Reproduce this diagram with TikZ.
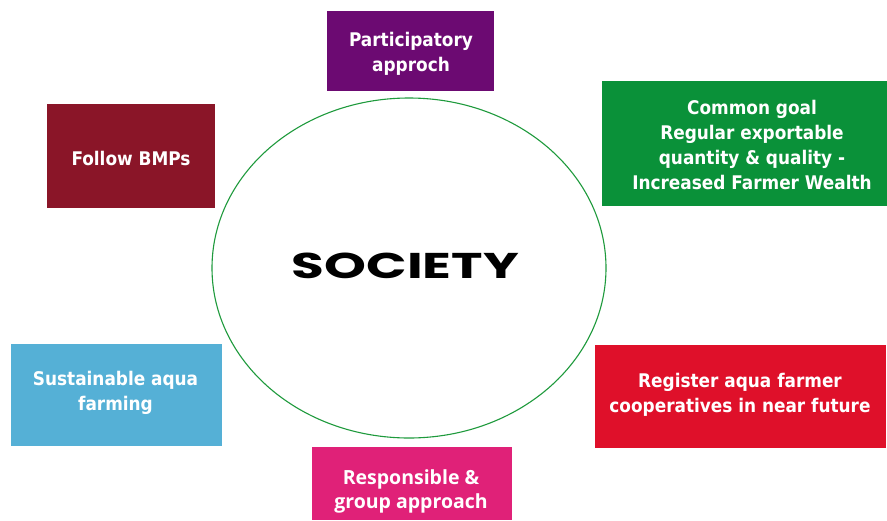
\documentclass[tikz,border=0pt]{standalone}
\usepackage{fontspec}
\usepackage{graphicx}
\usetikzlibrary{shapes.geometric}
\newfontfamily\tahfont{DejaVu Sans Condensed}
\newfontfamily\opfont{Open Sans}
\newfontfamily\socfont{Poppins}
\definecolor{cPurple}{HTML}{6C0A72}
\definecolor{cMaroon}{HTML}{8A1528}
\definecolor{cGreen}{HTML}{0A9139}
\definecolor{cBlue}{HTML}{55B0D6}
\definecolor{cRed}{HTML}{DF102A}
\definecolor{cPink}{HTML}{E02178}
\definecolor{cLine}{HTML}{1E9A3C}
\tikzset{
  box/.style={rectangle, inner sep=0pt},
  txt/.style={inner sep=0pt, text=white, align=center,
    font=\tahfont\bfseries\fontsize{18.8}{25}\selectfont},
}
\begin{document}
\begin{tikzpicture}[x=1pt,y=-1pt]
\useasboundingbox (0,0) rectangle (887,520);
\fill[white] (0,0) rectangle (887,520);
\node[draw=cLine, line width=1.1pt, ellipse, inner sep=0pt,
  minimum width=394pt, minimum height=340pt] (ell) at (409,268) {};
\node[inner sep=0pt] (soc) at (405.4,265.4)
  {\resizebox{227pt}{25.5pt}{\socfont\bfseries SOCIETY}};
% boxes
\node[box, fill=cPurple, minimum width=167pt, minimum height=80pt] (part) at (410.5,51) {};
\node[box, fill=cMaroon, minimum width=168pt, minimum height=104pt] (bmp) at (131,156) {};
\node[box, fill=cGreen, minimum width=300pt, minimum height=125pt] (goal) at (752,143.5) {};
\node[box, fill=cBlue, minimum width=211pt, minimum height=102pt] (sust) at (116.5,395) {};
\node[box, fill=cRed, minimum width=291pt, minimum height=103pt] (reg) at (740.5,396.5) {};
\node[box, fill=cPink, minimum width=200pt, minimum height=73pt] (resp) at (412,483.5) {};
% texts
\node[txt] (partT) at (411,54) {Participatory\\approch};
\node[txt] (bmpT) at (131,158) {Follow BMPs};
\node[txt] (goalT) at (752,144.7)
  {Common goal\\Regular exportable\\quantity \& quality -\\Increased Farmer Wealth};
\node[txt] (sustT) at (115.5,392.5) {Sustainable aqua\\farming};
\node[txt] (regT) at (740,394.5) {Register aqua farmer\\cooperatives in near future};
\node[txt, font=\opfont\bfseries\fontsize{19.5}{24}\selectfont] (respT) at (411,491)
  {Responsible \&\\group approach};
\end{tikzpicture}
\end{document}
